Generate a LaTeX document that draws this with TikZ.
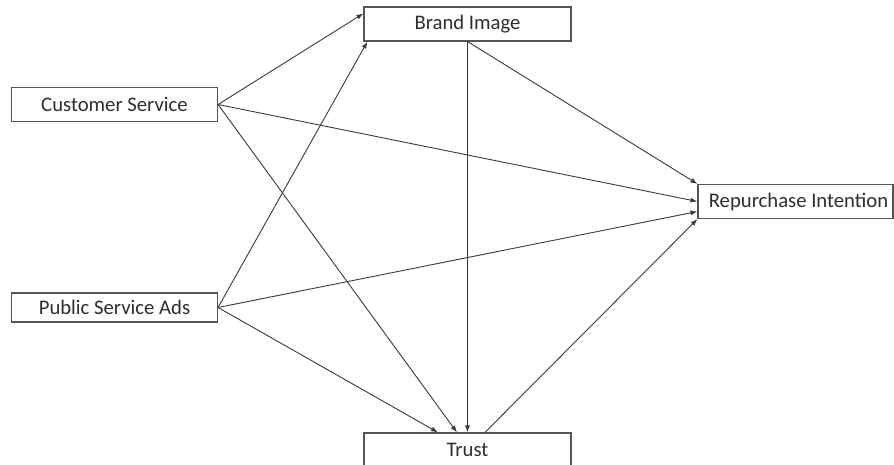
\documentclass[tikz,border=0pt]{standalone}
\usepackage{fontspec}
\setmainfont{Carlito}
\usetikzlibrary{calc,arrows.meta}
\definecolor{linec}{HTML}{3A3A3A}
\definecolor{boxc}{HTML}{555555}
\definecolor{txtc}{HTML}{2E2E2E}
\begin{document}
\begin{tikzpicture}[x=1pt,y=-1pt,
  box/.style={draw=boxc,line width=1.1pt,fill=white,inner sep=0pt,
    font=\fontsize{20.7}{24}\selectfont,text=txtc,anchor=center},
  conn/.style={draw=linec,line width=0.9pt,-{Latex[length=7pt,width=5pt]}}]
\clip (0,0) rectangle (894,465);
\useasboundingbox (0,0) rectangle (894,465);
\fill[white] (0,0) rectangle (894,465);
\node[box,minimum width=207pt,minimum height=34pt] (BI) at (467.5,24) {Brand Image};
\node[box,minimum width=206pt,minimum height=34pt] (CS) at (114.5,104.5) {Customer Service};
\node[box,minimum width=195pt,minimum height=34pt] (RI) at (795.5,201.5) {\hspace*{6pt}Repurchase Intention};
\node[box,minimum width=206pt,minimum height=29pt] (PSA) at (114.5,307.5) {Public Service Ads};
\node[box,minimum width=207pt,minimum height=34pt] (T) at (467.5,450) {Trust};
\draw[conn] (CS.east) -- ($(BI.north west)+(0,7)$);
\draw[conn] (CS.east) -- (RI.west);
\draw[conn] (CS.east) -- ($(T.north)+(-10.5,0)$);
\draw[conn] (PSA.east) -- ($(BI.south west)+(4,0)$);
\draw[conn] (PSA.east) -- ($(RI.west)+(0,10)$);
\draw[conn] (PSA.east) -- ($(T.north)+(-29.5,0)$);
\draw[conn] (BI.south) -- (T.north);
\draw[conn] (BI.south) -- (RI.north west);
\draw[conn] ($(T.north)+(17.5,0)$) -- (RI.south west);
\end{tikzpicture}
\end{document}
